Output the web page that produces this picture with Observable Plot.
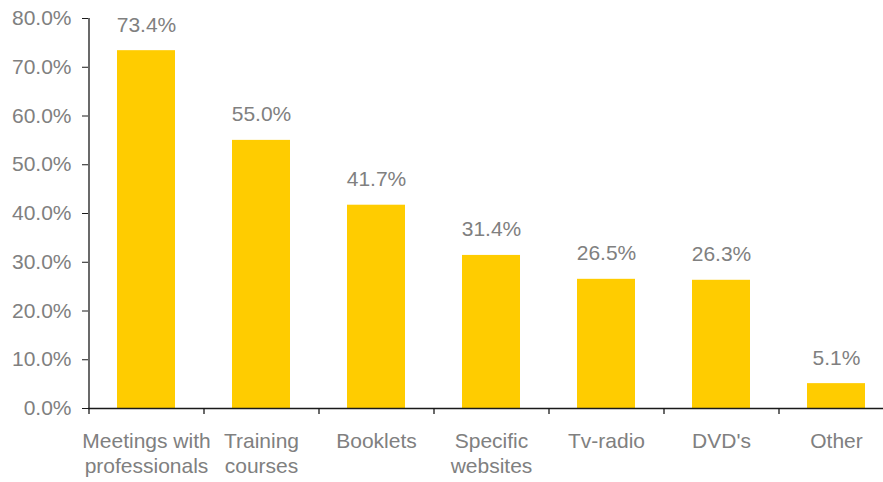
<!DOCTYPE html>
<html>
<head>
<meta charset="utf-8">
<script src="https://cdn.jsdelivr.net/npm/d3@7"></script>
<script src="https://cdn.jsdelivr.net/npm/@observablehq/plot@0.6"></script>
<style>
  html, body { margin: 0; padding: 0; background: #fff; }
  #chart { width: 883px; height: 482px; }
</style>
</head>
<body>
<div id="chart"></div>
<script>
const categories = ["Meetings with professionals", "Training courses", "Booklets", "Specific websites", "Tv-radio", "DVD's", "Other"];
const tickLabels = ["Meetings with\nprofessionals", "Training\ncourses", "Booklets", "Specific\nwebsites", "Tv-radio", "DVD's", "Other"];
const values = [73.4, 55.0, 41.7, 31.4, 26.5, 26.3, 5.1];
const yTicks = [0, 10, 20, 30, 40, 50, 60, 70, 80];

const data = categories.map((c, i) => ({category: c, value: values[i]}));
const labelOf = new Map(categories.map((c, i) => [c, tickLabels[i]]));

const W = 883, H = 482;
const xRange = [88, 893];
const step = (xRange[1] - xRange[0]) / categories.length;
const yDomain = [0, 80];
const mt = 18, mb = 74;
const unitPx = (H - mt - mb) / (yDomain[1] - yDomain[0]);
const gray = "#808080";
const axisColor = "#1a1a1a";

const chart = Plot.plot({
  width: W,
  height: H,
  marginLeft: 88,
  marginRight: 0,
  marginTop: mt,
  marginBottom: mb,
  style: {fontFamily: "'Liberation Sans', Arial, sans-serif", background: "#fff"},
  x: {domain: categories, range: xRange, paddingInner: 0.5, paddingOuter: 0.25, axis: null, label: null},
  y: {domain: yDomain, axis: null, label: null},
  marks: [
    Plot.barY(data, {x: "category", y: "value", fill: "#FFCC00"}),
    Plot.text(data, {x: "category", y: "value", text: d => d.value.toFixed(1) + "%",
      lineAnchor: "bottom", dy: -19, fontSize: 21, fill: gray}),
    Plot.axisY({ticks: yTicks, tickSize: 6, tickPadding: 11, tickFormat: d => d.toFixed(1) + "%",
      fontSize: 21, color: gray, stroke: axisColor, label: null}),
    Plot.axisX({tickSize: 0, tickPadding: 22, tickFormat: d => labelOf.get(d),
      fontSize: 21, lineHeight: 1.19, color: gray, label: null}),
    Plot.ruleY([0], {stroke: axisColor, strokeWidth: 1.3}),
    Plot.ruleX([categories[0]], {x: d => d, y1: 0, y2: yDomain[1], dx: -step / 2, stroke: axisColor, strokeWidth: 1.3}),
    Plot.ruleX(categories, {x: d => d, y1: 0, y2: -6 / unitPx, dx: -step / 2, stroke: axisColor, strokeWidth: 1.3})
  ]
});
document.getElementById("chart").appendChild(chart);
</script>
</body>
</html>
